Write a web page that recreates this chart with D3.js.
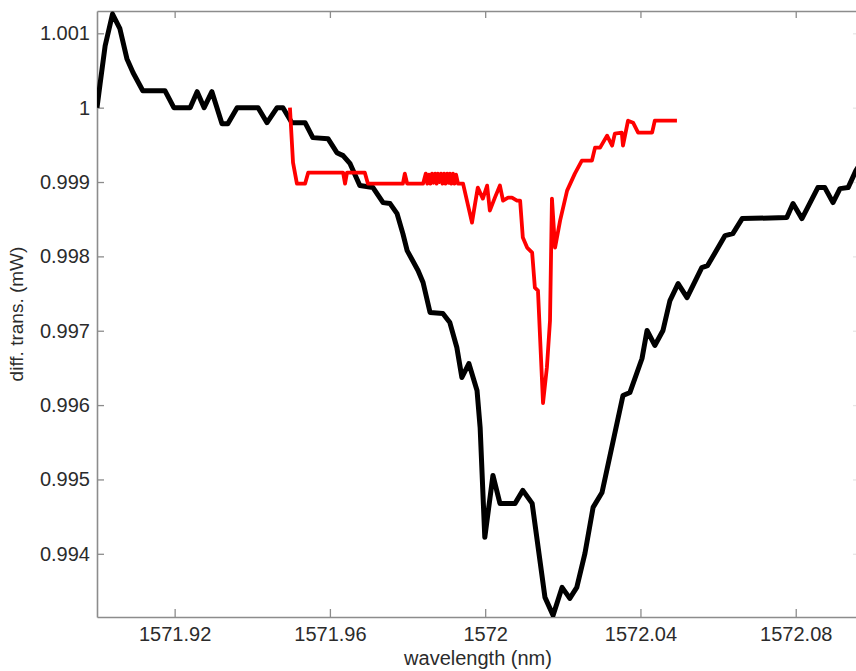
<!DOCTYPE html>
<html>
<head>
<meta charset="utf-8">
<script src="https://cdn.jsdelivr.net/npm/d3@7"></script>
<style>
  body { margin: 0; background: #fff; }
  svg { display: block; }
  text { font-family: Arial, "Liberation Sans", sans-serif; }
</style>
</head>
<body>
<svg></svg>
<script>
var width = 856;
var height = 671;

// black trace: wavelength (nm) / transmission (mW)
var blackWl = [1571.9000, 1571.9008, 1571.9021, 1571.9040, 1571.9059, 1571.9077, 1571.9093, 1571.9118,
  1571.9175, 1571.9198, 1571.9240, 1571.9258, 1571.9276, 1571.9296, 1571.9322, 1571.9337, 1571.9361,
  1571.9415, 1571.9438, 1571.9464, 1571.9479, 1571.9502, 1571.9536, 1571.9556, 1571.9595, 1571.9618,
  1571.9634, 1571.9652, 1571.9677, 1571.9711, 1571.9737, 1571.9755, 1571.9773, 1571.9788, 1571.9799,
  1571.9827, 1571.9840, 1571.9858, 1571.9891, 1571.9909, 1571.9927, 1571.9940, 1571.9958, 1571.9979,
  1571.9987, 1571.9999, 1572.0020, 1572.0038, 1572.0077, 1572.0097, 1572.0121, 1572.0154, 1572.0175,
  1572.0198, 1572.0218, 1572.0236, 1572.0257, 1572.0278, 1572.0301, 1572.0355, 1572.0373, 1572.0404,
  1572.0417, 1572.0437, 1572.0458, 1572.0476, 1572.0497, 1572.0520, 1572.0558, 1572.0573, 1572.0618,
  1572.0638, 1572.0662, 1572.0777, 1572.0793, 1572.0816, 1572.0857, 1572.0875, 1572.0896, 1572.0914,
  1572.0935, 1572.0955, 1572.0963];
var blackTr = [1.000000, 1.000323, 1.000833, 1.001259, 1.001062, 1.000659, 1.000470, 1.000228,
  1.000228, 1.000000, 1.000000, 1.000215, 1.000000, 1.000215, 0.999785, 0.999785, 1.000000,
  1.000000, 0.999798, 1.000000, 1.000000, 0.999798, 0.999798, 0.999597, 0.999583, 0.999395,
  0.999355, 0.999247, 0.998952, 0.998925, 0.998723, 0.998710, 0.998575, 0.998306, 0.998078,
  0.997810, 0.997648, 0.997245, 0.997231, 0.997110, 0.996774, 0.996371, 0.996559, 0.996196,
  0.995699, 0.994221, 0.995054, 0.994678, 0.994678, 0.994853, 0.994678, 0.993414, 0.993172,
  0.993548, 0.993400, 0.993548, 0.994005, 0.994624, 0.994825, 0.996129, 0.996170, 0.996627,
  0.997003, 0.996802, 0.997003, 0.997406, 0.997634, 0.997446, 0.997850, 0.997876, 0.998280,
  0.998306, 0.998508, 0.998522, 0.998710, 0.998508, 0.998925, 0.998925, 0.998723, 0.998911,
  0.998925, 0.999153, 0.999220];

// red trace
var redWl = [1571.9497, 1571.9505, 1571.9515, 1571.9536, 1571.9544, 1571.9634, 1571.9639, 1571.9644,
  1571.9690, 1571.9698, 1571.9788, 1571.9793, 1571.9799, 1571.9840, 1571.9847, 1571.9851, 1571.9855,
  1571.9859, 1571.9863, 1571.9867, 1571.9871, 1571.9875, 1571.9878, 1571.9882, 1571.9886, 1571.9890,
  1571.9894, 1571.9898, 1571.9902, 1571.9906, 1571.9909, 1571.9913, 1571.9917, 1571.9921, 1571.9925,
  1571.9930, 1571.9935,
  1571.9943, 1571.9953, 1571.9966, 1571.9974, 1571.9981, 1571.9994, 1572.0005, 1572.0012, 1572.0025,
  1572.0038, 1572.0046, 1572.0059, 1572.0069, 1572.0082, 1572.0090, 1572.0097, 1572.0108, 1572.0121,
  1572.0128, 1572.0136, 1572.0149, 1572.0159, 1572.0167, 1572.0172, 1572.0180, 1572.0193, 1572.0211,
  1572.0231, 1572.0249, 1572.0275, 1572.0283, 1572.0296, 1572.0314, 1572.0327, 1572.0334, 1572.0352,
  1572.0355, 1572.0368, 1572.0381, 1572.0394, 1572.0430, 1572.0437, 1572.0494];
var redTr = [1.000000, 0.999261, 0.998978, 0.998978, 0.999126, 0.999126, 0.998978, 0.999126,
  0.999126, 0.998978, 0.998978, 0.999113, 0.998978, 0.998978, 0.999113, 0.998978, 0.999100,
  0.998978, 0.999113, 0.998990, 0.999113, 0.998978, 0.999113, 0.999000, 0.999113, 0.998978,
  0.999113, 0.998978, 0.999113, 0.998990, 0.999113, 0.998978, 0.999113, 0.998978, 0.999100,
  0.998978, 0.998978,
  0.998978, 0.998750, 0.998454, 0.998710, 0.998925, 0.998777, 0.998952, 0.998616, 0.998790,
  0.998952, 0.998750, 0.998790, 0.998790, 0.998750, 0.998750, 0.998253, 0.998118, 0.998051,
  0.997581, 0.997540, 0.996027, 0.996507, 0.997137, 0.998777, 0.998118, 0.998481, 0.998884,
  0.999113, 0.999287, 0.999287, 0.999462, 0.999462, 0.999624, 0.999489, 0.999651, 0.999664,
  0.999489, 0.999825, 0.999798, 0.999664, 0.999664, 0.999825, 0.999825];

var xTickValues = [1571.92, 1571.96, 1572, 1572.04, 1572.08];
var xTickLabels = ["1571.92", "1571.96", "1572", "1572.04", "1572.08"];
var yTickValues = [0.994, 0.995, 0.996, 0.997, 0.998, 0.999, 1, 1.001];
var yTickLabels = ["0.994", "0.995", "0.996", "0.997", "0.998", "0.999", "1", "1.001"];

var plotLeft = 97, plotRight = 859, plotTop = 11, plotBottom = 617;
var axisColor = "#8c8c8c";
var textColor = "#2b2b2b";

var xScale = d3.scaleLinear().domain([1571.9, 1572.0963]).range([plotLeft, plotRight]);
var yScale = d3.scaleLinear().domain([0.99315, 1.0013]).range([plotBottom, plotTop]);

var svg = d3.select("svg").attr("width", width).attr("height", height);

svg.append("clipPath").attr("id", "plotClip")
  .append("rect")
  .attr("x", plotLeft).attr("y", plotTop - 3)
  .attr("width", plotRight - plotLeft).attr("height", plotBottom - plotTop + 3);

// box: top and right axes, ticks only
var xTop = d3.axisTop(xScale).tickValues(xTickValues).tickSizeInner(-7).tickSizeOuter(0).tickFormat("");
var yRight = d3.axisRight(yScale).tickValues(yTickValues).tickSizeInner(-6).tickSizeOuter(0).tickFormat("");

svg.append("g").attr("class", "box").attr("transform", "translate(0," + plotTop + ")").call(xTop);
svg.append("g").attr("class", "box faint").attr("transform", "translate(" + plotRight + ",0)").call(yRight);

var xAxis = d3.axisBottom(xScale)
  .tickValues(xTickValues)
  .tickFormat((d, i) => xTickLabels[i])
  .tickSizeInner(-8).tickSizeOuter(0).tickPadding(10);
var yAxis = d3.axisLeft(yScale)
  .tickValues(yTickValues)
  .tickFormat((d, i) => yTickLabels[i])
  .tickSizeInner(-7).tickSizeOuter(0).tickPadding(7);

svg.append("g").attr("class", "x axis").attr("transform", "translate(0," + plotBottom + ")").call(xAxis);
svg.append("g").attr("class", "y axis").attr("transform", "translate(" + plotLeft + ",0)").call(yAxis);

svg.selectAll(".domain").attr("stroke", axisColor).attr("stroke-width", 1.6);
svg.selectAll(".tick line").attr("stroke", axisColor).attr("stroke-width", 1.3);
svg.selectAll(".faint .tick line").attr("stroke", "#e6e6e6");
svg.selectAll(".tick text").attr("fill", textColor).style("font-size", "20px");

var line = d3.line()
  .x(d => xScale(d[0]))
  .y(d => yScale(d[1]));

var plot = svg.append("g").attr("clip-path", "url(#plotClip)");

plot.append("path")
  .datum(blackWl.map((w, i) => [w, blackTr[i]]))
  .attr("d", line)
  .attr("fill", "none")
  .attr("stroke", "#000")
  .attr("stroke-width", 5)
  .attr("stroke-linejoin", "round");

plot.append("path")
  .datum(redWl.map((w, i) => [w, redTr[i]]))
  .attr("d", line)
  .attr("fill", "none")
  .attr("stroke", "#ff0000")
  .attr("stroke-width", 3.8)
  .attr("stroke-linejoin", "round");

svg.append("text")
  .attr("x", (plotLeft + plotRight) / 2)
  .attr("y", 665)
  .attr("text-anchor", "middle")
  .attr("fill", textColor)
  .style("font-size", "20px")
  .text("wavelength (nm)");

svg.append("text")
  .attr("transform", "translate(23," + (plotTop + plotBottom) / 2 + ") rotate(-90)")
  .attr("text-anchor", "middle")
  .attr("fill", textColor)
  .style("font-size", "19px")
  .text("diff. trans. (mW)");
</script>
</body>
</html>
